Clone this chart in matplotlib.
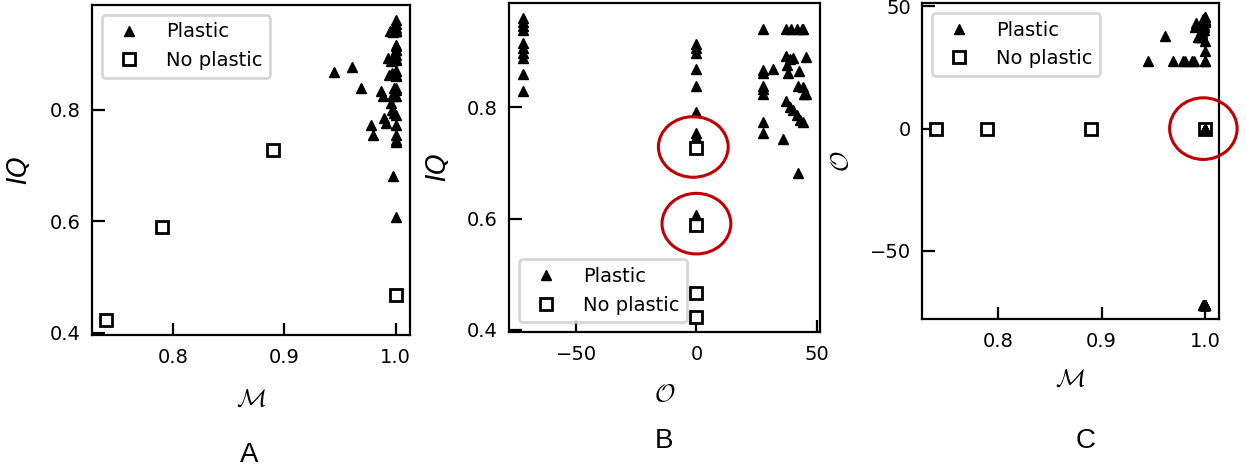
import matplotlib
matplotlib.use("Agg")
import matplotlib.pyplot as plt
from matplotlib.patches import Ellipse

# Plastic samples: M, O, IQ
plastic_M = [1.0, 1.0, 1.0, 0.998, 1.0, 1.0, 0.999, 1.0, 1.0, 0.998,
             1.0, 1.0, 1.0, 1.0, 1.0, 1.0, 1.0, 1.0, 1.0,
             0.945, 0.961, 0.969, 0.978, 0.980, 0.987, 0.989, 0.990, 0.991, 0.993,
             0.998, 1.0, 1.0, 1.0, 1.0, 0.995, 0.997, 0.999, 1.0, 1.0,
             0.996, 0.998, 1.0, 0.994, 0.997, 0.999, 1.0, 1.0, 0.998,
             0.996, 0.997, 0.999, 1.0]
plastic_O = [-72, -72, -72, -72, -72, -72, -72, -72, -72, -72,
             0, 0, 0, 0, 0, 0, 0, 0, 0,
             27.7, 37.8, 27.7, 27.7, 27.7, 27.7, 27.7, 41.6, 43.0, 37.4,
             42.3, 27.7, 27.7, 31.9, 36.0, 37.4, 39.5, 41.6, 43.7, 44.5,
             38.8, 40.2, 45.5, 38.0, 42.6, 42.2, 44.3, 45.5, 44.8,
             37.4, 38.8, 40.2, 44.5]
plastic_IQ = [0.961, 0.954, 0.946, 0.939, 0.916, 0.907, 0.898, 0.889, 0.861, 0.829,
              0.914, 0.907, 0.898, 0.870, 0.839, 0.791, 0.754, 0.746, 0.607,
              0.868, 0.877, 0.839, 0.773, 0.754, 0.834, 0.825, 0.786, 0.777, 0.893,
              0.682, 0.941, 0.862, 0.870, 0.743, 0.941, 0.941, 0.941, 0.941, 0.941,
              0.888, 0.889, 0.891, 0.862, 0.866, 0.839, 0.836, 0.825, 0.825,
              0.812, 0.800, 0.795, 0.773]

# No plastic samples
noplastic_M = [0.74, 0.79, 0.89, 1.0]
noplastic_O = [0, 0, 0, 0]
noplastic_IQ = [0.423, 0.589, 0.727, 0.467]

RED = '#C00000'

fig = plt.figure(figsize=(12.47, 4.71), dpi=100)
axA = fig.add_axes([0.0738, 0.2887, 0.2550, 0.7007])
axB = fig.add_axes([0.4082, 0.2951, 0.2494, 0.6985])
axC = fig.add_axes([0.7394, 0.3227, 0.2381, 0.6709])


def draw(ax, x_p, y_p, x_n, y_n, legend_loc):
    ax.plot(x_p, y_p, '^', color='black', markersize=7, linestyle='none',
            label='Plastic', zorder=3)
    ax.plot(x_n, y_n, 's', markerfacecolor='white', markeredgecolor='black',
            markeredgewidth=2, markersize=8, linestyle='none',
            label='No plastic', zorder=2)
    for s in ax.spines.values():
        s.set_linewidth(1.6)
    ax.tick_params(direction='in', length=9, width=1.6, labelsize=14,
                   top=False, right=False)
    ax.tick_params(axis='x', pad=9)
    ax.tick_params(axis='y', pad=8)
    leg = ax.legend(loc=legend_loc, fontsize=14, handletextpad=0.9)
    leg.get_frame().set_linewidth(2)


draw(axA, plastic_M, plastic_IQ, noplastic_M, noplastic_IQ, 'upper left')
draw(axB, plastic_O, plastic_IQ, noplastic_O, noplastic_IQ, 'lower left')
draw(axC, plastic_M, plastic_O, noplastic_M, noplastic_O, 'upper left')

axA.set_xticks([0.8, 0.9, 1.0])
axA.set_yticks([0.4, 0.6, 0.8])
axB.set_xticks([-50, 0, 50])
axB.set_yticks([0.4, 0.6, 0.8])
axC.set_xticks([0.8, 0.9, 1.0])
axC.set_yticks([-50, 0, 50])

axA.set_xlabel(r'$\mathcal{M}$', fontsize=18, math_fontfamily='cm')
axA.set_ylabel(r'$IQ$', fontsize=19)
axB.set_xlabel(r'$\mathcal{O}$', fontsize=18, math_fontfamily='cm')
axB.set_ylabel(r'$IQ$', fontsize=19)
axC.set_xlabel(r'$\mathcal{M}$', fontsize=18, math_fontfamily='cm')
axC.set_ylabel(r'$\mathcal{O}$', fontsize=18, math_fontfamily='cm')

axA.xaxis.set_label_coords(0.5, -0.158)
axA.yaxis.set_label_coords(-0.186, 0.5)
axB.xaxis.set_label_coords(0.5, -0.152)
axB.yaxis.set_label_coords(-0.183, 0.5)
axC.xaxis.set_label_coords(0.5, -0.152)
axC.yaxis.set_label_coords(-0.232, 0.5)

# red highlight circles
axB.add_patch(Ellipse((-1.3, 0.729), 29, 0.109, fill=False, edgecolor=RED,
                      linewidth=2.2, zorder=4))
axB.add_patch(Ellipse((0, 0.591), 28.6, 0.109, fill=False, edgecolor=RED,
                      linewidth=2.2, zorder=4))
axC.add_patch(Ellipse((0.998, 0), 0.065, 25.2, fill=False, edgecolor=RED,
                      linewidth=2.2, zorder=4, clip_on=False))

for letter, x, y in [('A', 249, 455), ('B', 664, 441), ('C', 1086, 441)]:
    fig.text(x / 1247, 1 - y / 471, letter, ha='center', va='center',
             fontsize=20, family='Liberation Sans')

fig.savefig('out.png', dpi=100)
